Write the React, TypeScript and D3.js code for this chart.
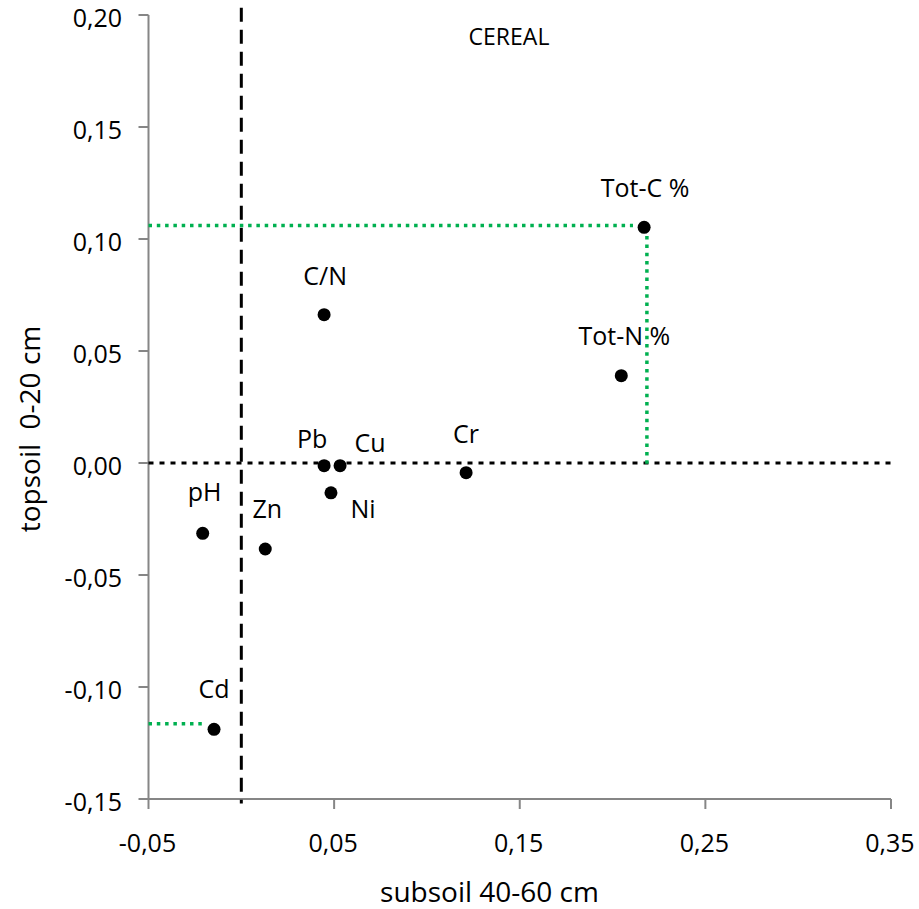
import React from "react";
import * as d3 from "d3";

// ---- data ----
const names = ["Tot-C %", "Tot-N %", "C/N", "Pb", "Cu", "Ni", "Cr", "pH", "Zn", "Cd"];
const subsoil = [0.217, 0.2047, 0.0446, 0.0446, 0.0532, 0.0483, 0.1211, -0.0208, 0.0129, -0.0147];
const topsoil = [0.1052, 0.039, 0.0662, -0.0012, -0.0012, -0.0133, -0.0043, -0.0314, -0.0384, -0.1189];

const xTicks = [-0.05, 0.05, 0.15, 0.25, 0.35];
const yTicks = [-0.15, -0.1, -0.05, 0, 0.05, 0.1, 0.15, 0.2];

// reference lines (data coordinates)
const zeroVertical = [[0, 0.2032], [0, -0.152]];
const zeroHorizontal = [[-0.05, 0], [0.352, 0]];
const greenGuides = [
  [[-0.05, 0.106], [0.211, 0.106]],
  [[0.2185, 0.105], [0.2185, -0.0013]],
  [[-0.05, -0.1164], [-0.0188, -0.1164]],
];

// label placement (pixel offsets from the marker)
const labelOffsets: Record<string, [number, number]> = {
  "Tot-C %": [1, -30],
  "Tot-N %": [3, -31],
  "C/N": [1, -30],
  Pb: [-12, -18],
  Cu: [30, -14],
  Ni: [32, 25],
  Cr: [0, -30],
  pH: [2, -32],
  Zn: [2, -31],
  Cd: [0, -31],
};

const W = 919;
const H = 909;
const FONT = "'Open Sans', 'Noto Sans', sans-serif";
const fmt = (v: number) => d3.format(".2f")(v).replace(".", ",").replace("\u2212", "-");

export default function App() {
  const x = d3.scaleLinear().domain([-0.05, 0.35]).range([148.5, 891]);
  const y = d3.scaleLinear().domain([-0.15, 0.2]).range([799, 15]);
  const line = d3
    .line<number[]>()
    .x((d) => x(d[0]))
    .y((d) => y(d[1]));
  const axisColor = "#868686";

  return (
    <svg
      width={W}
      height={H}
      style={{ position: "absolute", left: 0, top: 0, background: "#fff" }}
      fontFamily={FONT}
    >
      <rect width={W} height={H} fill="#fff" />
      {/* axes */}
      <line x1={x(-0.05)} x2={x(-0.05)} y1={y(0.2)} y2={y(-0.15)} stroke={axisColor} strokeWidth={2} />
      <line x1={x(-0.05)} x2={x(0.35)} y1={y(-0.15)} y2={y(-0.15)} stroke={axisColor} strokeWidth={2} />
      {yTicks.map((t) => (
        <g key={"y" + t}>
          <line x1={x(-0.05) - 10} x2={x(-0.05)} y1={y(t)} y2={y(t)} stroke={axisColor} strokeWidth={2} />
          <text x={122} y={y(t) + 11.5} textAnchor="end" fontSize={25} fill="#000">
            {fmt(t)}
          </text>
        </g>
      ))}
      {xTicks.map((t) => (
        <g key={"x" + t}>
          <line x1={x(t)} x2={x(t)} y1={y(-0.15)} y2={y(-0.15) + 10} stroke={axisColor} strokeWidth={2} />
          <text x={x(t) - 1} y={852} textAnchor="middle" fontSize={25} fill="#000">
            {fmt(t)}
          </text>
        </g>
      ))}

      {/* reference lines */}
      <path d={line(zeroVertical) || ""} stroke="#000" strokeWidth={3} strokeDasharray="14 8" fill="none" />
      <path d={line(zeroHorizontal) || ""} stroke="#000" strokeWidth={3} strokeDasharray="5 6" fill="none" />
      {greenGuides.map((g, i) => (
        <path key={i} d={line(g) || ""} stroke="#00B050" strokeWidth={3.5} strokeDasharray="3.5 4.8" fill="none" />
      ))}

      {/* points */}
      {names.map((n, i) => (
        <circle key={n} cx={x(subsoil[i])} cy={y(topsoil[i])} r={6.5} fill="#000" />
      ))}
      {names.map((n, i) => {
        const [dx, dy] = labelOffsets[n];
        return (
          <text
            key={"l" + n}
            x={x(subsoil[i]) + dx}
            y={y(topsoil[i]) + dy}
            textAnchor="middle"
            fontSize={25}
            fill="#000"
          >
            {n}
          </text>
        );
      })}

      {/* titles */}
      <text x={509} y={45} textAnchor="middle" fontSize={23} fill="#000">
        CEREAL
      </text>
      <text x={489.5} y={902} textAnchor="middle" fontSize={28} fill="#000">
        subsoil 40-60 cm
      </text>
      <text
        transform="translate(40,429) rotate(-90)"
        textAnchor="middle"
        fontSize={28}
        fill="#000"
        style={{ whiteSpace: "pre" }}
      >
        {"topsoil  0-20 cm"}
      </text>
    </svg>
  );
}
